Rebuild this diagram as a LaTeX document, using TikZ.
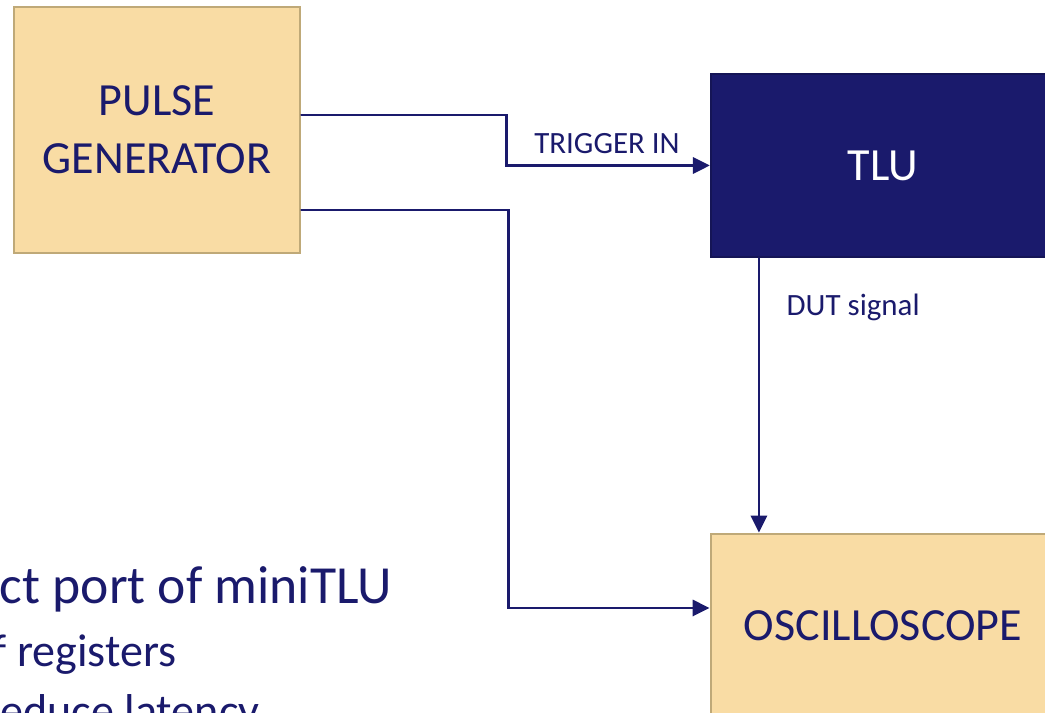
\documentclass[tikz,border=0pt]{standalone}
\usepackage{fontspec}
\setmainfont{Carlito}
\usepackage{xcolor}
\usetikzlibrary{arrows.meta,positioning}
\definecolor{benchnavy}{HTML}{1A1A6C}
\definecolor{benchsand}{HTML}{F9DCA4}
\definecolor{benchedge}{HTML}{BFA978}
\tikzset{
  every picture/.append style={line cap=round},
  bench box/.style={draw=benchedge,fill=benchsand,line width=0.8pt,text=benchnavy,
    align=center,inner sep=0pt,font=\fontsize{13.1}{16.5}\selectfont},
  bench dark/.style={draw=benchnavy!80!black,fill=benchnavy,line width=0.6pt,text=white,
    align=center,inner sep=0pt,font=\fontsize{13.1}{16.5}\selectfont},
  bench link/.style={benchnavy,line width=0.75pt,-{Triangle[length=4.8pt,width=4.6pt]}},
  bench note/.style={text=benchnavy,inner sep=0pt,font=\fontsize{8.8}{10.5}\selectfont},
  bench slide/.style={text=benchnavy,inner sep=0pt}
}

\begin{document}
\begin{tikzpicture}[x=0.01cm, y=-0.01cm]
  \useasboundingbox (0,0) rectangle (1045,713);
  \clip (0,0) rectangle (1045,713);
  % slide text behind the diagram
  \node[bench slide, anchor=base east, font=\fontsize{15.25}{18}\selectfont]
    (line a) at (393,604) {ct port of miniTLU};
  \node[bench slide, anchor=base east, font=\fontsize{13.1}{16}\selectfont]
    (line b) at (177,667) {f registers};
  \node[bench slide, anchor=base east, font=\fontsize{13.1}{16}\selectfont]
    (line c) at (260,727) {educe latency};
  % blocks
  \node[bench box, minimum width=2.86cm, minimum height=2.46cm]
    (pulse) at (157,130) {PULSE\\GENERATOR};
  \node[bench dark, minimum width=3.44cm, minimum height=1.83cm]
    (tlu) at (883,165.5) {TLU};
  \node[bench box, minimum width=3.44cm, minimum height=1.84cm]
    (scope) at (883,626) {OSCILLOSCOPE};
  % ports
  \coordinate (trig out) at ([yshift=0.15cm]pulse.east);
  \coordinate (sync out) at ([yshift=-0.8cm]pulse.east);
  \coordinate (scope in) at ([yshift=0.18cm]scope.west);
  \coordinate (dut out) at ([xshift=-1.24cm]tlu.south);
  \coordinate (dut in) at ([xshift=-1.24cm]scope.north);
  % signals
  \draw[bench link] (trig out) -- ++(205,0) |- (tlu.west);
  \draw[bench link] (sync out) -- ++(207,0) |- (scope in);
  \draw[bench link] (dut out) -- (dut in);
  \node[bench note, anchor=base] (trig lab) at (607,154) {TRIGGER IN};
  \node[bench note, anchor=base west] (dut lab) at (786,316) {DUT signal};
\end{tikzpicture}
\end{document}
